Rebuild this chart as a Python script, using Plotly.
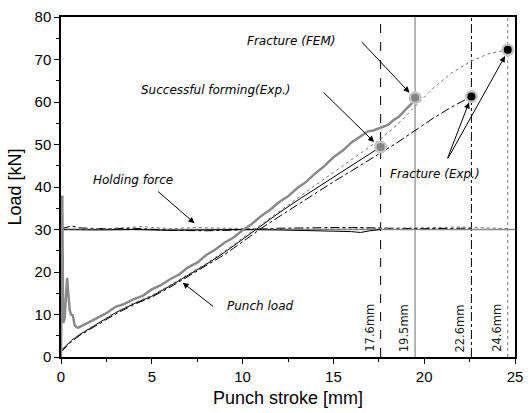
import plotly.graph_objects as go

# ---------------- data ----------------
fem_x = [0, 0.03, 0.07, 0.12, 0.2, 0.27, 0.34, 0.4, 0.48, 0.55, 0.65, 0.75, 0.85, 0.95,
         1.2, 1.5, 2.0, 2.5, 3.0, 3.5, 4.0, 4.5, 5.0, 5.5, 6.0, 6.5, 7.0, 7.5, 8.0, 8.5,
         9.0, 9.5, 10.0, 10.5, 11.0, 11.5, 12.0, 12.5, 13.0, 13.5, 14.0, 14.5, 15.0, 15.5,
         16.0, 16.5, 16.9, 17.2, 17.6, 18.0, 18.3, 18.6, 19.0, 19.3, 19.5]
fem_y = [0, 38, 38, 8, 9, 14, 18.6, 15, 11, 10, 9.8, 7.5, 7.0, 6.9,
         7.4, 8.1, 9.2, 10.3, 11.8, 12.5, 13.6, 14.4, 15.9, 16.9, 18.3, 19.4, 21.1, 22.2, 24.0, 25.3,
         26.9, 28.1, 29.8, 31.3, 33.1, 34.6, 36.4, 37.8, 39.7, 41.2, 43.2, 44.9, 47.0, 48.5,
         50.5, 51.9, 53.1, 53.3, 54.0, 54.6, 55.7, 56.5, 58.3, 59.6, 61.0]

succ_x = [0, 0.3, 0.6, 1, 1.5, 2, 2.5, 3, 4, 5, 6, 7, 8, 9, 10, 10.5, 11, 12, 13, 14, 15, 16, 17, 17.6]
succ_y = [1.5, 2.8, 4.0, 5.2, 6.5, 7.8, 9.2, 10.4, 12.5, 14.3, 16.7, 19.2, 21.8, 24.6, 27.7, 29.3,
          31.0, 33.9, 36.8, 39.6, 42.3, 45.0, 47.8, 49.4]

frac1_x = [0, 0.5, 1, 2, 3, 4, 5, 6, 7, 8, 9, 10, 11, 12, 13, 14, 15, 16, 17, 17.6, 18.5, 19.5,
           20.5, 21.5, 22.6]
frac1_y = [1.2, 3.3, 5.0, 7.6, 10.1, 12.3, 14.1, 16.4, 18.9, 21.4, 24.1, 27.1, 30.2, 33.0, 35.8,
           38.5, 41.2, 43.8, 46.4, 47.9, 50.4, 53.3, 56.2, 58.8, 61.3]

frac2_x = [0, 0.5, 1, 2, 3, 4, 5, 6, 7, 8, 9, 10, 11, 12, 13, 14, 15, 16, 17, 17.6, 18.5, 19.5,
           20.5, 21.5, 22.5, 23.5, 24.6]
frac2_y = [1.5, 3.6, 5.3, 7.9, 10.5, 12.7, 14.5, 16.9, 19.4, 22.0, 24.9, 28.0, 31.3, 34.4, 37.4,
           40.4, 43.4, 46.5, 49.5, 51.3, 54.6, 59.0, 63.3, 66.8, 69.4, 71.3, 72.3]

hold_fem_x = [0, 5, 10, 15, 20, 25]
hold_fem_y = [30.0, 30.0, 30.0, 30.0, 30.0, 30.0]

hold_succ_x = [0, 2, 4, 6, 8, 10, 12, 14, 15, 16, 16.5, 17, 17.6]
hold_succ_y = [30.0, 29.9, 30.0, 29.8, 29.9, 30.0, 29.9, 29.8, 29.6, 29.5, 29.3, 29.7, 30.0]

hold_frac1_x = [0, 0.3, 0.6, 1, 2, 4, 6, 8, 10, 12, 14, 16, 18, 20, 22, 22.6]
hold_frac1_y = [30.2, 30.5, 30.8, 30.4, 30.2, 30.3, 29.8, 29.7, 29.9, 30.3, 30.4, 30.5, 30.3,
                30.2, 30.3, 30.3]

hold_frac2_x = [0, 2, 3, 4, 4.5, 5, 6, 7, 7.5, 8, 9, 10, 12, 14, 16, 18, 20, 21, 22, 23, 24, 24.6]
hold_frac2_y = [30.1, 30.1, 30.3, 30.6, 30.7, 30.5, 30.2, 30.4, 30.5, 30.4, 30.3, 30.2, 30.1,
                30.0, 30.1, 30.2, 30.3, 30.5, 30.6, 30.4, 30.2, 30.2]

stroke_marks = [17.6, 19.5, 22.6, 24.6]
stroke_labels = ["17.6mm", "19.5mm", "22.6mm", "24.6mm"]

gray_pts_x = [19.5, 17.6]
gray_pts_y = [61.0, 49.4]
black_pts_x = [22.6, 24.6]
black_pts_y = [61.3, 72.3]

# ---------------- figure ----------------
fig = go.Figure()

def line(x, y, color, width, dash="solid"):
    fig.add_trace(go.Scatter(x=x, y=y, mode="lines", showlegend=False, hoverinfo="skip",
                             line=dict(color=color, width=width, dash=dash)))

# vertical stroke lines
vstyles = [("black", 1, "dash"), ("#a0a0a0", 1.5, "solid"), ("black", 1, "dashdot"), ("#777", 1, "dot")]
for xv, (c, w, d) in zip(stroke_marks, vstyles):
    line([xv, xv], [0, 80], c, w, d)

# holding forces
line(hold_fem_x, hold_fem_y, "#8a8a8a", 1.5)
line(hold_succ_x, hold_succ_y, "black", 1)
line(hold_frac1_x, hold_frac1_y, "black", 1, "dashdot")
line(hold_frac2_x, hold_frac2_y, "#777", 1, "dot")

# punch loads
line(succ_x, succ_y, "black", 1)
line(frac1_x, frac1_y, "black", 1, "dashdot")
line(frac2_x, frac2_y, "#777", 1, "dot")
line(fem_x, fem_y, "#8a8a8a", 2.5)

# markers
fig.add_trace(go.Scatter(x=gray_pts_x + black_pts_x, y=gray_pts_y + black_pts_y, mode="markers",
                         showlegend=False, hoverinfo="skip",
                         marker=dict(size=13, color="#c4c4c4", line=dict(width=0))))
fig.add_trace(go.Scatter(x=gray_pts_x, y=gray_pts_y, mode="markers", showlegend=False,
                         hoverinfo="skip", marker=dict(size=8, color="#858585", line=dict(width=0))))
fig.add_trace(go.Scatter(x=black_pts_x, y=black_pts_y, mode="markers", showlegend=False,
                         hoverinfo="skip", marker=dict(size=8, color="black", line=dict(width=0))))

tfont = dict(family="DejaVu Sans", size=12, color="black")

def label(text, x, y):
    fig.add_annotation(x=x, y=y, text="<i>" + text + "</i>", showarrow=False, font=tfont,
                       xanchor="center", yanchor="middle")

def arrow(x, y, ax, ay):
    fig.add_annotation(x=x, y=y, ax=ax, ay=ay, text="", showarrow=True, arrowhead=2,
                       arrowsize=1.2, arrowwidth=1, arrowcolor="black")

label("Fracture (FEM)", 12.65, 74.4)
label("Successful forming(Exp.)", 8.54, 62.9)
label("Fracture (Exp.)", 20.6, 43.1)
label("Holding force", 3.95, 41.7)
label("Punch load", 10.97, 11.9)

arrow(19.19, 62.2, -49, -52)
arrow(17.24, 50.6, -52, -51)
arrow(22.47, 59.9, -22, 57)
arrow(24.45, 70.8, -58, 104)
arrow(7.35, 31.5, -38, -33)
arrow(6.7, 17.5, 32, 25)

for xv, t in zip(stroke_marks, stroke_labels):
    fig.add_annotation(x=xv, y=6.8, text=t, showarrow=False, textangle=-90,
                       font=dict(family="DejaVu Sans", size=11.5, color="#222"),
                       xanchor="center", yanchor="middle", xshift=-11)

axis_common = dict(showline=True, linecolor="black", linewidth=1.5, mirror=True,
                   ticks="outside", ticklen=5, tickwidth=1, tickcolor="black",
                   showgrid=False, zeroline=False,
                   tickfont=dict(family="Liberation Sans, Arial", size=15, color="black"),
                   minor=dict(ticks="outside", ticklen=3, tickwidth=1, tickcolor="black"))

fig.update_xaxes(range=[0, 25], tickvals=[0, 5, 10, 15, 20, 25], minor_dtick=2.5,
                 title=dict(text="Punch stroke [mm]", standoff=8,
                            font=dict(family="Liberation Sans, Arial", size=18, color="black")),
                 **axis_common)
fig.update_yaxes(range=[0, 80], tickvals=[0, 10, 20, 30, 40, 50, 60, 70, 80], minor_dtick=5,
                 title=dict(text="Load [kN]", standoff=8,
                            font=dict(family="Liberation Sans, Arial", size=18, color="black")),
                 **axis_common)

fig.update_layout(width=531, height=413, margin=dict(l=61, r=8, t=14, b=56),
                  plot_bgcolor="white", paper_bgcolor="white")

fig.write_html("out.html")
